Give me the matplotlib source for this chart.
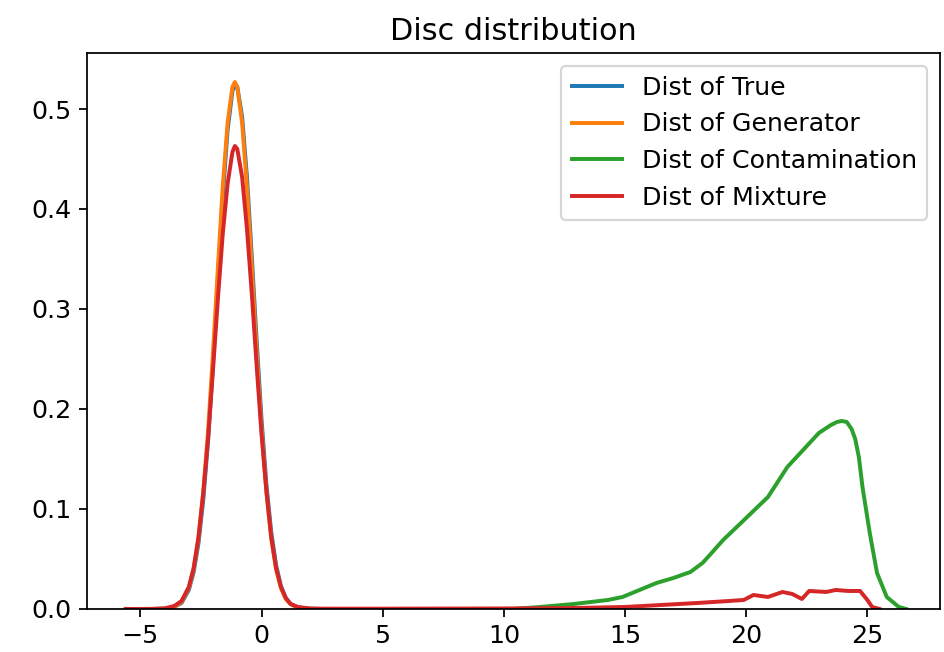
import matplotlib
matplotlib.use("Agg")
import matplotlib.pyplot as plt

# Peak region grid (True / Generator)
x_true = [-5.6, -5.0, -4.5, -4.0, -3.6, -3.3, -3.0, -2.8, -2.6, -2.4, -2.2, -2.0, -1.8, -1.6,
          -1.4, -1.2, -1.1, -1.0, -0.8, -0.6, -0.4, -0.2, 0.0, 0.2, 0.4, 0.6, 0.8, 1.0, 1.2,
          1.5, 2.0, 2.5, 3.0]
y_true = [0.0, 0.0, 0.0, 0.0003, 0.002, 0.006, 0.019, 0.037, 0.066, 0.110, 0.170, 0.246,
          0.330, 0.412, 0.479, 0.518, 0.525, 0.522, 0.492, 0.432, 0.352, 0.268, 0.190,
          0.125, 0.077, 0.044, 0.023, 0.011, 0.005, 0.0015, 0.0002, 0.0, 0.0]
y_gen = [0.0, 0.0, 0.0, 0.0003, 0.002, 0.007, 0.021, 0.040, 0.071, 0.118, 0.180, 0.257,
         0.341, 0.422, 0.486, 0.522, 0.527, 0.522, 0.486, 0.422, 0.341, 0.257, 0.180,
         0.118, 0.071, 0.040, 0.021, 0.010, 0.0048, 0.0013, 0.0001, 0.0, 0.0]

# Contamination
x_cont = [10.4, 11.5, 12.9, 14.3, 14.9, 15.6, 16.3, 17.0, 17.7, 18.2, 18.5, 19.05, 20.0,
          20.9, 21.7, 22.35, 23.0, 23.5, 23.75, 23.95, 24.15, 24.35, 24.5, 24.65, 24.8,
          25.1, 25.4, 25.8, 26.3, 26.6]
y_cont = [0.0, 0.002, 0.005, 0.009, 0.012, 0.019, 0.026, 0.031, 0.037, 0.046, 0.054, 0.069,
          0.091, 0.112, 0.142, 0.159, 0.176, 0.184, 0.187, 0.188, 0.187, 0.180, 0.170,
          0.152, 0.122, 0.076, 0.036, 0.012, 0.002, 0.0]

# Mixture
x_mix = [-5.6, -5.0, -4.5, -4.0, -3.6, -3.3, -3.0, -2.8, -2.6, -2.4, -2.2, -2.0, -1.8, -1.6,
         -1.4, -1.2, -1.1, -1.0, -0.8, -0.6, -0.4, -0.2, 0.0, 0.2, 0.4, 0.6, 0.8, 1.0, 1.2,
         1.5, 2.0, 2.5, 5.0, 10.0, 13.0, 15.0, 16.5, 18.0, 19.3, 19.9, 20.3, 20.9, 21.5,
         21.9, 22.3, 22.6, 23.3, 23.7, 24.2, 24.7, 25.0, 25.2, 25.5]
y_mix = [0.0, 0.0, 0.0001, 0.0005, 0.003, 0.008, 0.022, 0.041, 0.072, 0.117, 0.172, 0.240,
         0.310, 0.375, 0.425, 0.457, 0.463, 0.460, 0.432, 0.380, 0.315, 0.243, 0.175,
         0.118, 0.072, 0.041, 0.022, 0.011, 0.005, 0.002, 0.0005, 0.0003, 0.0003, 0.0005,
         0.001, 0.002, 0.004, 0.006, 0.008, 0.009, 0.014, 0.012, 0.017, 0.015, 0.010,
         0.018, 0.017, 0.019, 0.018, 0.018, 0.009, 0.002, 0.0]

labels = ["Dist of True", "Dist of Generator", "Dist of Contamination", "Dist of Mixture"]
title = "Disc distribution"
x_ticks = [-5, 0, 5, 10, 15, 20, 25]
y_ticks = [0.0, 0.1, 0.2, 0.3, 0.4, 0.5]

plt.rcParams["font.size"] = 11.5
plt.rcParams["lines.linewidth"] = 1.8

dpi = 158
fig = plt.figure(figsize=(944 / dpi, 652 / dpi), dpi=dpi)
ax = fig.add_axes([0.0922, 0.0660, 0.9036, 0.8527])

ax.plot(x_true, y_true, color="#1f77b4", label=labels[0])
ax.plot(x_true, y_gen, color="#ff7f0e", label=labels[1])
ax.plot(x_cont, y_cont, color="#2ca02c", label=labels[2])
ax.plot(x_mix, y_mix, color="#d62728", label=labels[3])

ax.set_xlim(-7.2, 28.0)
ax.set_ylim(0, 0.556)
ax.set_xticks(x_ticks)
ax.set_yticks(y_ticks)
ax.set_title(title, fontsize=13.8)
ax.legend(loc="upper right")

fig.savefig("out.png", dpi=dpi)
